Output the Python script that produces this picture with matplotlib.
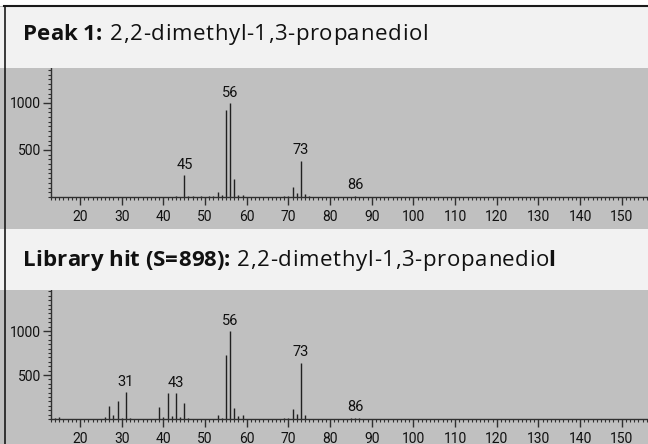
import matplotlib.pyplot as plt
from matplotlib.patches import Rectangle
from matplotlib.ticker import MultipleLocator, FixedLocator

# measured spectrum (Peak 1)
sample_mz = [43, 45, 46, 47, 49, 51, 52, 53, 54, 55, 56, 57, 58, 59,
             69, 70, 71, 72, 73, 74, 75, 86]
sample_int = [15, 230, 12, 15, 10, 12, 15, 50, 20, 925, 1000, 195, 25, 25,
              12, 15, 110, 45, 385, 30, 10, 15]
sample_labels = [45, 56, 73, 86]

# library spectrum
lib_mz = [14, 15, 26, 27, 28, 29, 30, 31, 32, 39, 40, 41, 42, 43, 44, 45, 46,
          53, 54, 55, 56, 57, 58, 59, 69, 70, 71, 72, 73, 74, 85, 86, 87]
lib_int = [15, 20, 20, 145, 50, 200, 15, 305, 10, 135, 25, 295, 30, 295, 20, 185, 10,
           40, 15, 725, 1000, 120, 30, 40, 12, 15, 110, 57, 640, 50, 12, 15, 10]
lib_labels = [31, 43, 56, 73, 86]

W, H = 648, 444
fig = plt.figure(figsize=(W / 100, H / 100), dpi=100)
fig.patch.set_facecolor('#c0c0c0')
rend = fig.canvas.get_renderer()


def px_rect(x0, y0, x1, y1, color):
    # rectangle in pixel coords, origin top-left
    fig.patches.append(Rectangle((x0 / W, 1 - y1 / H), (x1 - x0) / W, (y1 - y0) / H,
                                 transform=fig.transFigure, facecolor=color,
                                 edgecolor='none', zorder=0))


px_rect(0, 0, W, 6, 'white')
px_rect(0, 7, W, 68, '#f2f2f2')
px_rect(0, 229, W, 290, '#f2f2f2')
# border left + top
fig.add_artist(plt.Line2D([4.5 / W, 4.5 / W], [0, 1 - 6 / H], transform=fig.transFigure,
                          color='#1a1a1a', lw=1.2))
fig.add_artist(plt.Line2D([4 / W, 1], [1 - 6.5 / H, 1 - 6.5 / H], transform=fig.transFigure,
                          color='#1a1a1a', lw=1.5))

tick_fam = ['Roboto', 'DejaVu Sans']
tick_size = 10
head_fam = ['Open Sans', 'DejaVu Sans']
head_size = 16


def text_w(s, weight):
    t = fig.text(0, 0, s, fontsize=head_size, family=head_fam, fontweight=weight)
    w = t.get_window_extent(renderer=rend).width
    t.remove()
    return w


def header_text(x0, x1, y_base, s, weight):
    # draw s char by char, spread a little so it runs from x0 to x1 (pixels)
    bar = text_w('|', weight)
    pos = [0.0] + [text_w(s[:i] + '|', weight) - bar for i in range(1, len(s))]
    track = (x1 - x0 - text_w(s, weight)) / (len(s) - 1)
    for i, ch in enumerate(s):
        if ch == ' ':
            continue
        fig.text((x0 + pos[i] + i * track) / W, 1 - y_base / H, ch, fontsize=head_size,
                 family=head_fam, fontweight=weight, va='baseline', ha='left',
                 color='#111111')


header_text(23, 102, 40, 'Peak 1:', 'bold')
header_text(110, 428, 40, '2,2-dimethyl-1,3-propanediol', 'normal')
header_text(23, 230, 266, 'Library hit (S=898):', 'bold')
header_text(237, 549, 266, '2,2-dimethyl-1,3-propanedio', 'normal')
fig.text(548.5 / W, 1 - 266 / H, 'l', fontsize=head_size, family=head_fam,
         fontweight='bold', va='baseline', ha='left', color='#111111')


def spectrum(bottom_px, top_px, ymax, mz, inten, labels):
    ax = fig.add_axes([51 / W, 1 - bottom_px / H, 1 - 51 / W, (bottom_px - top_px) / H])
    ax.set_facecolor('none')
    ax.vlines(mz, 0, inten, colors='#202020', lw=1)
    for m, v in zip(mz, inten):
        if m in labels:
            ax.annotate(str(m), (m, v), xytext=(0, 2.5), textcoords='offset points',
                        ha='center', va='bottom', fontfamily=tick_fam,
                        fontsize=tick_size + 0.5, color='#111111')
    ax.set_xlim(13, 156.3)
    ax.set_ylim(0, ymax)
    for s in ['top', 'right']:
        ax.spines[s].set_visible(False)
    for s in ['left', 'bottom']:
        ax.spines[s].set_color('#303030')
        ax.spines[s].set_linewidth(1)
    ax.xaxis.set_major_locator(MultipleLocator(10))
    ax.xaxis.set_minor_locator(MultipleLocator(1))
    ax.yaxis.set_major_locator(FixedLocator([500, 1000]))
    ax.yaxis.set_minor_locator(MultipleLocator(50))
    ax.tick_params(which='major', length=6, width=1, color='#303030', pad=3.5,
                   labelsize=tick_size, labelcolor='#111111')
    ax.tick_params(axis='y', which='major', pad=1)
    ax.tick_params(which='minor', length=2.2, width=0.8, color='#303030')
    for lab in ax.get_xticklabels() + ax.get_yticklabels():
        lab.set_family(tick_fam)
    return ax


spectrum(197, 68, 1372, sample_mz, sample_int, sample_labels)
spectrum(419, 290, 1466, lib_mz, lib_int, lib_labels)

fig.savefig('out.png', dpi=100, facecolor=fig.get_facecolor())
